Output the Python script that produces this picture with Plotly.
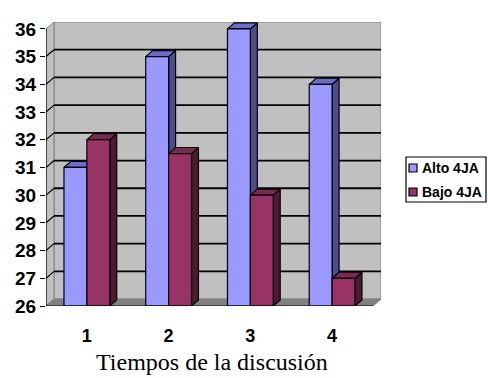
import plotly.graph_objects as go

categories = [1, 2, 3, 4]
cat_labels = ["1", "2", "3", "4"]
series_names = ["Alto 4JA", "Bajo 4JA"]
alto = [31, 35, 36, 34]
bajo = [32, 31.5, 30, 27]
y_ticks = [26, 27, 28, 29, 30, 31, 32, 33, 34, 35, 36]
x_title = "Tiempos de la discusión"

# styling
FRONT = ["#9999FF", "#993366"]
TOP = ["#6B6BCC", "#7A2952"]
SIDE = ["#4D4D8C", "#4C1A33"]
BASE = 26
WALL_DX, WALL_DY = 0.098, 0.25
BAR_DX, BAR_DY = 0.085, 0.22
BW = 0.28
FONT = "Liberation Sans, Arial, sans-serif"
W, H = 488, 378
ML, MR, MT, MB = 46, 107, 22, 72
PW, PH = W - ML - MR, H - MT - MB


def px_x(p):
    return (p - ML) / PW


def px_y(p):
    return (H - MB - p) / PH


fig = go.Figure()

shapes = []
annotations = []
x_lo, x_hi = 0.5, 4.5
y_top = y_ticks[-1]
# back wall
shapes.append(dict(type="rect", layer="below", x0=x_lo + WALL_DX, x1=x_hi + WALL_DX,
                   y0=BASE + WALL_DY, y1=y_top + WALL_DY, fillcolor="#C0C0C0",
                   line=dict(color="#808080", width=1)))
# side wall
shapes.append(dict(type="path", layer="below",
                   path=f"M {x_lo},{BASE} L {x_lo+WALL_DX},{BASE+WALL_DY} L {x_lo+WALL_DX},{y_top+WALL_DY} L {x_lo},{y_top} Z",
                   fillcolor="#C0C0C0", line=dict(color="#808080", width=1)))
# floor
shapes.append(dict(type="path", layer="below",
                   path=f"M {x_lo},{BASE} L {x_hi},{BASE} L {x_hi+WALL_DX},{BASE+WALL_DY} L {x_lo+WALL_DX},{BASE+WALL_DY} Z",
                   fillcolor="#808080", line=dict(color="#808080", width=1)))
# gridlines
for v in y_ticks[1:-1]:
    shapes.append(dict(type="line", layer="below", x0=x_lo + WALL_DX, x1=x_hi + WALL_DX,
                       y0=v + WALL_DY, y1=v + WALL_DY, line=dict(color="black", width=1.8)))
    shapes.append(dict(type="line", layer="below", x0=x_lo, x1=x_lo + WALL_DX,
                       y0=v, y1=v + WALL_DY, line=dict(color="black", width=1.2)))
# front axis lines
shapes.append(dict(type="line", x0=x_lo, x1=x_lo, y0=BASE, y1=y_top, line=dict(color="black", width=1.2)))
shapes.append(dict(type="line", x0=x_lo, x1=x_hi, y0=BASE, y1=BASE, line=dict(color="black", width=1.2)))
# category boundary ticks
for b in [1.5, 2.5, 3.5, 4.5]:
    shapes.append(dict(type="line", xref="x", yref="y", ysizemode="pixel", yanchor=BASE,
                       x0=b, x1=b, y0=0, y1=-6, line=dict(color="black", width=1.2)))


def poly(xs, ys, color):
    fig.add_trace(go.Scatter(x=xs + [xs[0]], y=ys + [ys[0]], mode="lines", fill="toself",
                             fillcolor=color, line=dict(color="black", width=1.2),
                             showlegend=False, hoverinfo="skip"))


for si, vals in enumerate([alto, bajo]):
    for c, v in zip(categories, vals):
        x0 = c - BW if si == 0 else c
        x1 = x0 + BW
        poly([x1, x1 + BAR_DX, x1 + BAR_DX, x1], [BASE, BASE + BAR_DY, v + BAR_DY, v], SIDE[si])
        poly([x0, x0 + BAR_DX, x1 + BAR_DX, x1], [v, v + BAR_DY, v + BAR_DY, v], TOP[si])
        poly([x0, x1, x1, x0], [BASE, BASE, v, v], FRONT[si])

# manual legend (box + swatches + labels)
LX0, LX1, LY0, LY1 = 406, 486, 157, 202
shapes.append(dict(type="rect", xref="paper", yref="paper", x0=px_x(LX0), x1=px_x(LX1),
                   y0=px_y(LY1), y1=px_y(LY0), fillcolor="white",
                   line=dict(color="black", width=1.2)))
for si, name in enumerate(series_names):
    cy = 168 + 24 * si
    shapes.append(dict(type="rect", xref="paper", yref="paper",
                       x0=px_x(409), x1=px_x(417), y0=px_y(cy + 4), y1=px_y(cy - 4),
                       fillcolor=FRONT[si], line=dict(color="black", width=1.2)))
    annotations.append(dict(text=f"<b>{name}</b>", xref="paper", yref="paper",
                            x=px_x(420), y=px_y(cy), xanchor="left", yanchor="middle",
                            showarrow=False,
                            font=dict(family=FONT, size=14, color="black")))

annotations.append(dict(text=x_title, xref="paper", yref="paper", x=px_x(212), y=px_y(362),
                        xanchor="center", yanchor="middle", showarrow=False,
                        font=dict(family="Liberation Serif, Times New Roman, serif", size=24, color="black")))

fig.update_layout(
    width=W, height=H,
    margin=dict(l=ML, r=MR, t=MT, b=MB, autoexpand=False),
    plot_bgcolor="white", paper_bgcolor="white",
    shapes=shapes,
    showlegend=False,
    xaxis=dict(range=[x_lo, x_hi + WALL_DX], tickvals=categories, ticktext=cat_labels,
               ticks="outside", ticklen=13, tickcolor="rgba(0,0,0,0)",
               showgrid=False, zeroline=False, showline=False,
               tickfont=dict(family=FONT, size=18, color="black", weight="bold")),
    yaxis=dict(range=[BASE, y_top + WALL_DY], tickvals=y_ticks,
               ticks="outside", ticklen=5, tickcolor="black", tickwidth=1.2,
               showgrid=False, zeroline=False, showline=False,
               tickfont=dict(family=FONT, size=19, color="black", weight="bold")),
    annotations=annotations,
)

fig.write_html("out.html", config={"displayModeBar": False},
               post_script="document.body.style.margin='0';document.body.style.overflow='hidden';")
